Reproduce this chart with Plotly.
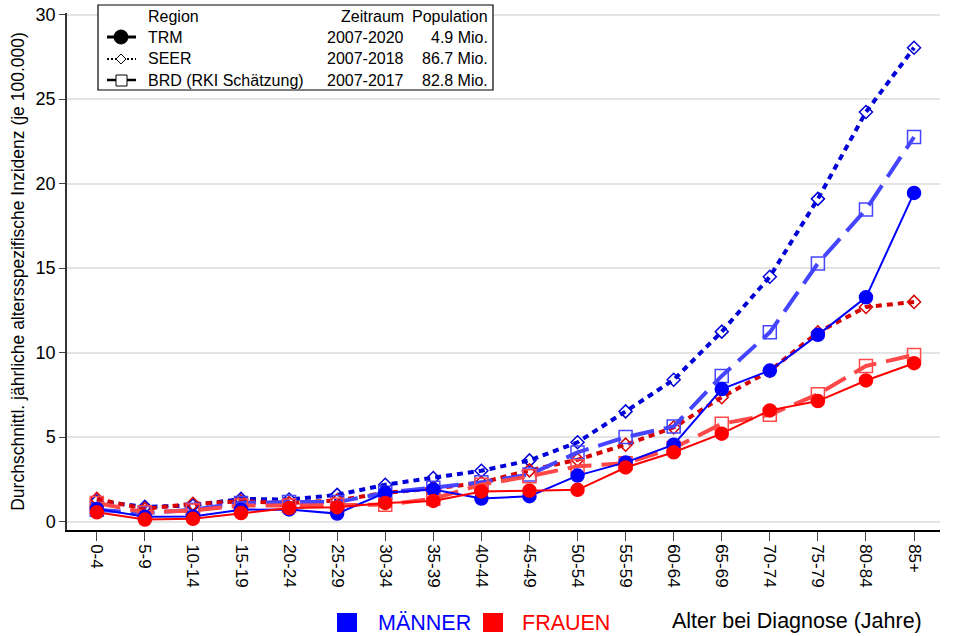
import plotly.graph_objects as go

ages = ["0-4", "5-9", "10-14", "15-19", "20-24", "25-29", "30-34", "35-39", "40-44",
        "45-49", "50-54", "55-59", "60-64", "65-69", "70-74", "75-79", "80-84", "85+"]

trm_m = [0.75, 0.28, 0.30, 0.70, 0.72, 0.47, 1.70, 1.90, 1.36, 1.50, 2.72, 3.50, 4.55, 7.84, 8.94, 11.05, 13.27, 19.45]
trm_f = [0.55, 0.12, 0.16, 0.50, 0.80, 0.85, 1.10, 1.22, 1.78, 1.83, 1.88, 3.20, 4.10, 5.20, 6.58, 7.13, 8.35, 9.37]
seer_m = [1.20, 0.87, 0.95, 1.34, 1.30, 1.58, 2.18, 2.58, 3.01, 3.62, 4.69, 6.52, 8.39, 11.24, 14.49, 19.10, 24.24, 28.04]
seer_f = [1.34, 0.75, 1.05, 1.20, 1.10, 1.25, 1.70, 1.95, 2.30, 3.03, 3.66, 4.55, 5.57, 7.36, 8.92, 11.20, 12.70, 13.00]
brd_m = [0.70, 0.50, 0.70, 1.10, 1.15, 1.15, 1.70, 2.00, 2.32, 2.78, 4.09, 5.00, 5.63, 8.62, 11.20, 15.28, 18.47, 22.76]
brd_f = [1.10, 0.55, 0.65, 0.95, 0.95, 1.00, 1.00, 1.35, 2.18, 2.68, 3.27, 3.45, 4.35, 5.79, 6.32, 7.54, 9.21, 9.86]

legend_rows = [("TRM", "2007-2020", "4.9 Mio."),
               ("SEER", "2007-2018", "86.7 Mio."),
               ("BRD (RKI Schätzung)", "2007-2017", "82.8 Mio.")]

FONT = "Liberation Sans, Arial, sans-serif"
W, H = 954, 636
L, R, T, B = 67, 14, 13, 106
PW, PH = W - L - R, H - T - B


def px(x):
    return (x - L) / PW


def py(y):
    return (H - B - y) / PH


fig = go.Figure()

series = [
    (seer_m, "#0000D8", "dot", 4, "diamond-open", 10),
    (seer_f, "#D80000", "dot", 4, "diamond-open", 10),
    (brd_m, "#4545FF", "long", 4, "square-open", 13),
    (brd_f, "#FF4848", "long", 4, "square-open", 13),
    (trm_m, "#0000FF", "solid", 2, "circle", 13),
    (trm_f, "#FF0000", "solid", 2, "circle", 13),
]
for vals, col, dash, w, sym, ms in series:
    d = {"dot": "6px,5px", "long": "24px,10px", "solid": "solid"}[dash]
    fig.add_trace(go.Scatter(
        x=ages, y=vals, mode="lines+markers",
        line=dict(color=col, width=w, dash=d),
        marker=dict(symbol=sym, size=ms, color=col, line=dict(color=col, width=1.5)),
        showlegend=False, hoverinfo="skip"))

shapes = []
annotations = []

# legend box
shapes.append(dict(type="rect", xref="paper", yref="paper",
                   x0=px(98), x1=px(493), y0=py(90), y1=py(5),
                   line=dict(color="black", width=1.2), fillcolor="white", layer="above"))

lf = dict(family=FONT, size=16, color="black")
annotations.append(dict(text="Region", x=px(146), y=py(16), xref="paper", yref="paper",
                        xanchor="left", yanchor="middle", showarrow=False, font=lf))
annotations.append(dict(text="Zeitraum", x=px(406), y=py(16), xref="paper", yref="paper",
                        xanchor="right", yanchor="middle", showarrow=False, font=lf))
annotations.append(dict(text="Population", x=px(490), y=py(16), xref="paper", yref="paper",
                        xanchor="right", yanchor="middle", showarrow=False, font=lf))
row_y = [37, 59, 80]
for (name, per, pop), yy in zip(legend_rows, row_y):
    annotations.append(dict(text=name, x=px(146), y=py(yy), xref="paper", yref="paper",
                            xanchor="left", yanchor="middle", showarrow=False, font=lf))
    annotations.append(dict(text=per, x=px(406), y=py(yy), xref="paper", yref="paper",
                            xanchor="right", yanchor="middle", showarrow=False, font=lf))
    annotations.append(dict(text=pop, x=px(490), y=py(yy), xref="paper", yref="paper",
                            xanchor="right", yanchor="middle", showarrow=False, font=lf))

# legend symbols
shapes.append(dict(type="line", xref="paper", yref="paper", x0=px(107), x1=px(136),
                   y0=py(37), y1=py(37), line=dict(color="black", width=3), layer="above"))
shapes.append(dict(type="circle", xref="paper", yref="paper", x0=px(114), x1=px(128),
                   y0=py(44), y1=py(30), fillcolor="black", line=dict(color="black", width=1),
                   layer="above"))
shapes.append(dict(type="line", xref="paper", yref="paper", x0=px(107), x1=px(136),
                   y0=py(59), y1=py(59), line=dict(color="black", width=2, dash="2px,2px"),
                   layer="above"))
dpath = "M {},{} L {},{} L {},{} L {},{} Z".format(
    px(116), py(59), px(121), py(54), px(126), py(59), px(121), py(64))
shapes.append(dict(type="path", xref="paper", yref="paper", path=dpath,
                   fillcolor="white", line=dict(color="black", width=1), layer="above"))
shapes.append(dict(type="line", xref="paper", yref="paper", x0=px(107), x1=px(136),
                   y0=py(80), y1=py(80), line=dict(color="black", width=2.5), layer="above"))
shapes.append(dict(type="rect", xref="paper", yref="paper", x0=px(116), x1=px(127),
                   y0=py(86), y1=py(75), fillcolor="white", line=dict(color="black", width=1),
                   layer="above"))

# bottom legend
shapes.append(dict(type="rect", xref="paper", yref="paper", x0=px(337), x1=px(357),
                   y0=py(632), y1=py(613), fillcolor="#0000FF", line=dict(width=0)))
shapes.append(dict(type="rect", xref="paper", yref="paper", x0=px(483), x1=px(503),
                   y0=py(632), y1=py(613), fillcolor="#FF0000", line=dict(width=0)))
annotations.append(dict(text="MÄNNER", x=px(376), y=py(623), xref="paper", yref="paper",
                        xanchor="left", yanchor="middle", showarrow=False,
                        font=dict(family=FONT, size=21.5, color="#0000FF")))
annotations.append(dict(text="FRAUEN", x=px(520), y=py(623), xref="paper", yref="paper",
                        xanchor="left", yanchor="middle", showarrow=False,
                        font=dict(family=FONT, size=21.5, color="#FF0000")))
annotations.append(dict(text="Alter bei Diagnose (Jahre)", x=px(924), y=py(621), xref="paper",
                        yref="paper", xanchor="right", yanchor="middle", showarrow=False,
                        font=dict(family=FONT, size=21.5, color="black")))

fig.update_layout(
    width=W, height=H,
    margin=dict(l=L, r=R, t=T, b=B, autoexpand=False),
    paper_bgcolor="white", plot_bgcolor="white",
    font=dict(family=FONT, color="black"),
    shapes=shapes, annotations=annotations,
    xaxis=dict(type="category", range=[-0.62, 17.54], tickangle=90, automargin=False,
               ticks="outside", ticklen=9, tickcolor="#444", tickwidth=1,
               showline=True, linecolor="black", linewidth=1.5, showgrid=False,
               tickfont=dict(family=FONT, size=17, color="black"), zeroline=False),
    yaxis=dict(range=[-0.5, 30.1], tickvals=[0, 5, 10, 15, 20, 25, 30], automargin=False,
               ticks="outside", ticklen=6, tickcolor="#444", tickwidth=1,
               showline=True, linecolor="#333", linewidth=1.5,
               showgrid=True, gridcolor="#e4e4e4", gridwidth=1.5, zeroline=False,
               tickfont=dict(family=FONT, size=18, color="black"),
               title=dict(text="Durchschnittl. jährliche altersspezifische Inzidenz (je 100.000)",
                          font=dict(family=FONT, size=17.5, color="black"), standoff=6)),
)

post = ("document.documentElement.style.margin='0';"
        "document.documentElement.style.overflow='hidden';"
        "document.body.style.margin='0';document.body.style.padding='0';"
        "document.body.style.overflow='hidden';"
        "var gd=document.getElementById('{plot_id}');"
        "gd.style.position='absolute';gd.style.left='0px';gd.style.top='0px';")

fig.write_html("out.html", config={"displayModeBar": False}, post_script=post)
